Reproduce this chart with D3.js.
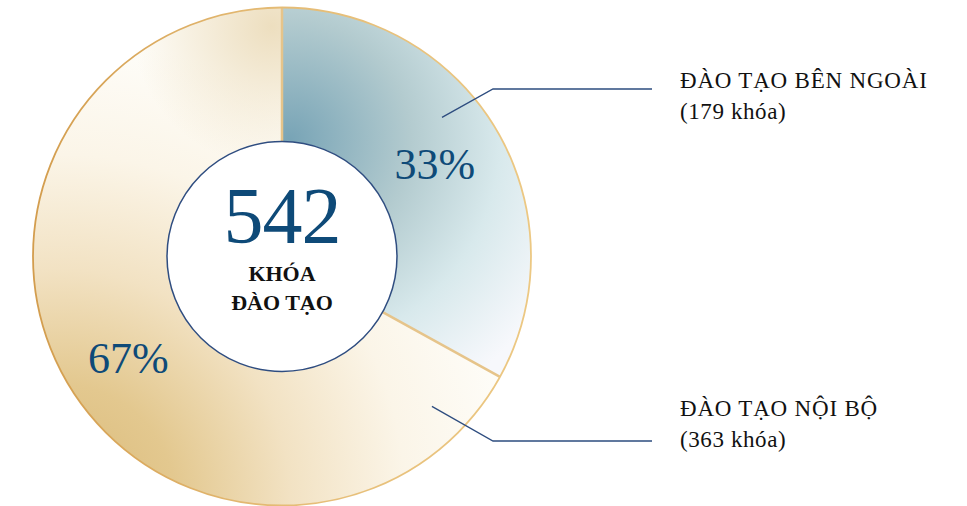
<!doctype html>
<html lang="vi">
<head>
<meta charset="utf-8">
<title>542 khóa đào tạo</title>
<script src="https://cdn.jsdelivr.net/npm/d3@7"></script>
<style>
  html, body { margin: 0; padding: 0; background: #fff; }
  svg text { font-family: "Liberation Serif", "DejaVu Serif", serif; }
</style>
</head>
<body>
<script>
// data
var categories = ["ĐÀO TẠO BÊN NGOÀI", "ĐÀO TẠO NỘI BỘ"];
var courseCounts = [179, 363];
var percentLabels = ["33%", "67%"];
var countLabels = ["(179 khóa)", "(363 khóa)"];
var totalLabel = "542";
var centerLines = ["KHÓA", "ĐÀO TẠO"];

var W = 967, H = 506;
var cx = 282, cy = 256.5;
var outerR = 249, innerR = 115;
var serif = "'Liberation Serif', 'DejaVu Serif', serif";

var svg = d3.select("body").append("svg")
    .attr("width", W)
    .attr("height", H)
    .style("display", "block");

var defs = svg.append("defs");

// blue slice gradient
var gBlue = defs.append("radialGradient")
    .attr("id", "gBlue")
    .attr("gradientUnits", "userSpaceOnUse")
    .attr("cx", 8).attr("cy", -117).attr("r", 300)
    .attr("fx", 8).attr("fy", -117);
[[0, "#78a4b6"], [0.4, "#b3cbcf"], [0.7, "#d8e9ec"], [1, "#f7f8fc"]].forEach(function(s) {
    gBlue.append("stop").attr("offset", s[0]).attr("stop-color", s[1]);
});

// gold slice gradient
var gGold = defs.append("radialGradient")
    .attr("id", "gGold")
    .attr("gradientUnits", "userSpaceOnUse")
    .attr("cx", -222).attr("cy", 243).attr("r", 460)
    .attr("fx", -222).attr("fy", 243);
[[0, "#d9b977"], [0.25, "#e3c88f"], [0.5, "#f2e2c3"], [0.75, "#fbf5e8"], [1, "#fefdf9"]].forEach(function(s) {
    gGold.append("stop").attr("offset", s[0]).attr("stop-color", s[1]);
});

var gTop = defs.append("radialGradient")
    .attr("id", "gTop")
    .attr("gradientUnits", "userSpaceOnUse")
    .attr("cx", -10).attr("cy", -230).attr("r", 140);
gTop.append("stop").attr("offset", 0).attr("stop-color", "#ead9b5").attr("stop-opacity", 0.85);
gTop.append("stop").attr("offset", 1).attr("stop-color", "#ead9b5").attr("stop-opacity", 0);

var gRim = defs.append("linearGradient")
    .attr("id", "gRim")
    .attr("gradientUnits", "userSpaceOnUse")
    .attr("x1", -outerR).attr("y1", 0).attr("x2", outerR).attr("y2", 0);
gRim.append("stop").attr("offset", 0).attr("stop-color", "#d39d4e");
gRim.append("stop").attr("offset", 0.5).attr("stop-color", "#e5bc76");
gRim.append("stop").attr("offset", 1).attr("stop-color", "#ecc883");

var fills = ["url(#gBlue)", "url(#gGold)"];

var pie = d3.pie().sort(null).value(function(d) { return d; });
var arcs = pie(courseCounts);

var arc = d3.arc().innerRadius(innerR).outerRadius(outerR);
var labelArc = d3.arc().innerRadius(182).outerRadius(182);

var g = svg.append("g").attr("transform", "translate(" + cx + "," + cy + ")");

g.selectAll("path.slice")
    .data(arcs)
    .enter()
    .append("path")
    .attr("class", "slice")
    .attr("d", arc)
    .attr("fill", function(d, i) { return fills[i]; });

// beige shading at the top of the gold slice
g.append("path")
    .attr("d", arc(arcs[1]))
    .attr("fill", "url(#gTop)");

// slice dividers
g.selectAll("line.divider")
    .data(arcs)
    .enter()
    .append("line")
    .attr("class", "divider")
    .attr("x1", function(d) { return innerR * Math.sin(d.startAngle); })
    .attr("y1", function(d) { return -innerR * Math.cos(d.startAngle); })
    .attr("x2", function(d) { return outerR * Math.sin(d.startAngle); })
    .attr("y2", function(d) { return -outerR * Math.cos(d.startAngle); })
    .attr("stroke", "#e6c48a")
    .attr("stroke-width", 2.5);

// outer rim
g.append("circle")
    .attr("r", outerR)
    .attr("fill", "none")
    .attr("stroke", "url(#gRim)")
    .attr("stroke-width", 1.8);

// center disc
g.append("circle")
    .attr("r", innerR)
    .attr("fill", "#fff")
    .attr("stroke", "#2f4d80")
    .attr("stroke-width", 1.5);

g.append("text")
    .attr("x", 0)
    .attr("y", -14)
    .attr("text-anchor", "middle")
    .attr("font-family", serif)
    .attr("font-size", "80px")
    .attr("letter-spacing", "-1px")
    .attr("fill", "#0e4a78")
    .text(totalLabel);

g.selectAll("text.center")
    .data(centerLines)
    .enter()
    .append("text")
    .attr("class", "center")
    .attr("x", 0)
    .attr("y", function(d, i) { return 24 + i * 29; })
    .attr("text-anchor", "middle")
    .attr("font-family", serif)
    .attr("font-size", "22px")
    .attr("font-weight", "bold")
    .attr("fill", "#111")
    .text(function(d) { return d; });

// percentage labels
g.selectAll("text.pct")
    .data(arcs)
    .enter()
    .append("text")
    .attr("class", "pct")
    .attr("transform", function(d) {
        var c = labelArc.centroid(d);
        return "translate(" + c[0] + "," + c[1] + ")";
    })
    .attr("dx", function(d, i) { return i === 0 ? -4 : 3; })
    .attr("dy", function(d, i) { return i === 0 ? "0.35em" : "0.55em"; })
    .attr("text-anchor", "middle")
    .attr("font-family", serif)
    .attr("font-size", "44px")
    .attr("fill", "#0e4a78")
    .text(function(d, i) { return percentLabels[i]; });

// leader lines and legend text
var leaderAngles = [49, 135];
var leaderR = 212;
var elbowX = 493, endX = 652;
var leaderY = [89, 441];

var leader = d3.line();
svg.selectAll("path.leader")
    .data(leaderAngles)
    .enter()
    .append("path")
    .attr("class", "leader")
    .attr("d", function(a, i) {
        var r = a * Math.PI / 180;
        return leader([
            [cx + leaderR * Math.sin(r), cy - leaderR * Math.cos(r)],
            [elbowX, leaderY[i]],
            [endX, leaderY[i]]
        ]);
    })
    .attr("fill", "none")
    .attr("stroke", "#2d4c7f")
    .attr("stroke-width", 1.3);

var legendBaseY = [88, 416];
var legend = svg.selectAll("g.legend")
    .data(categories)
    .enter()
    .append("g")
    .attr("class", "legend")
    .attr("transform", function(d, i) { return "translate(680," + legendBaseY[i] + ")"; });

legend.append("text")
    .attr("font-family", serif)
    .attr("font-size", "23px")
    .attr("letter-spacing", "0.8px")
    .attr("fill", "#111")
    .text(function(d) { return d; });

legend.append("text")
    .attr("y", 31)
    .attr("font-family", serif)
    .attr("font-size", "23px")
    .attr("letter-spacing", "0.6px")
    .attr("fill", "#111")
    .text(function(d, i) { return countLabels[i]; });
</script>
</body>
</html>
